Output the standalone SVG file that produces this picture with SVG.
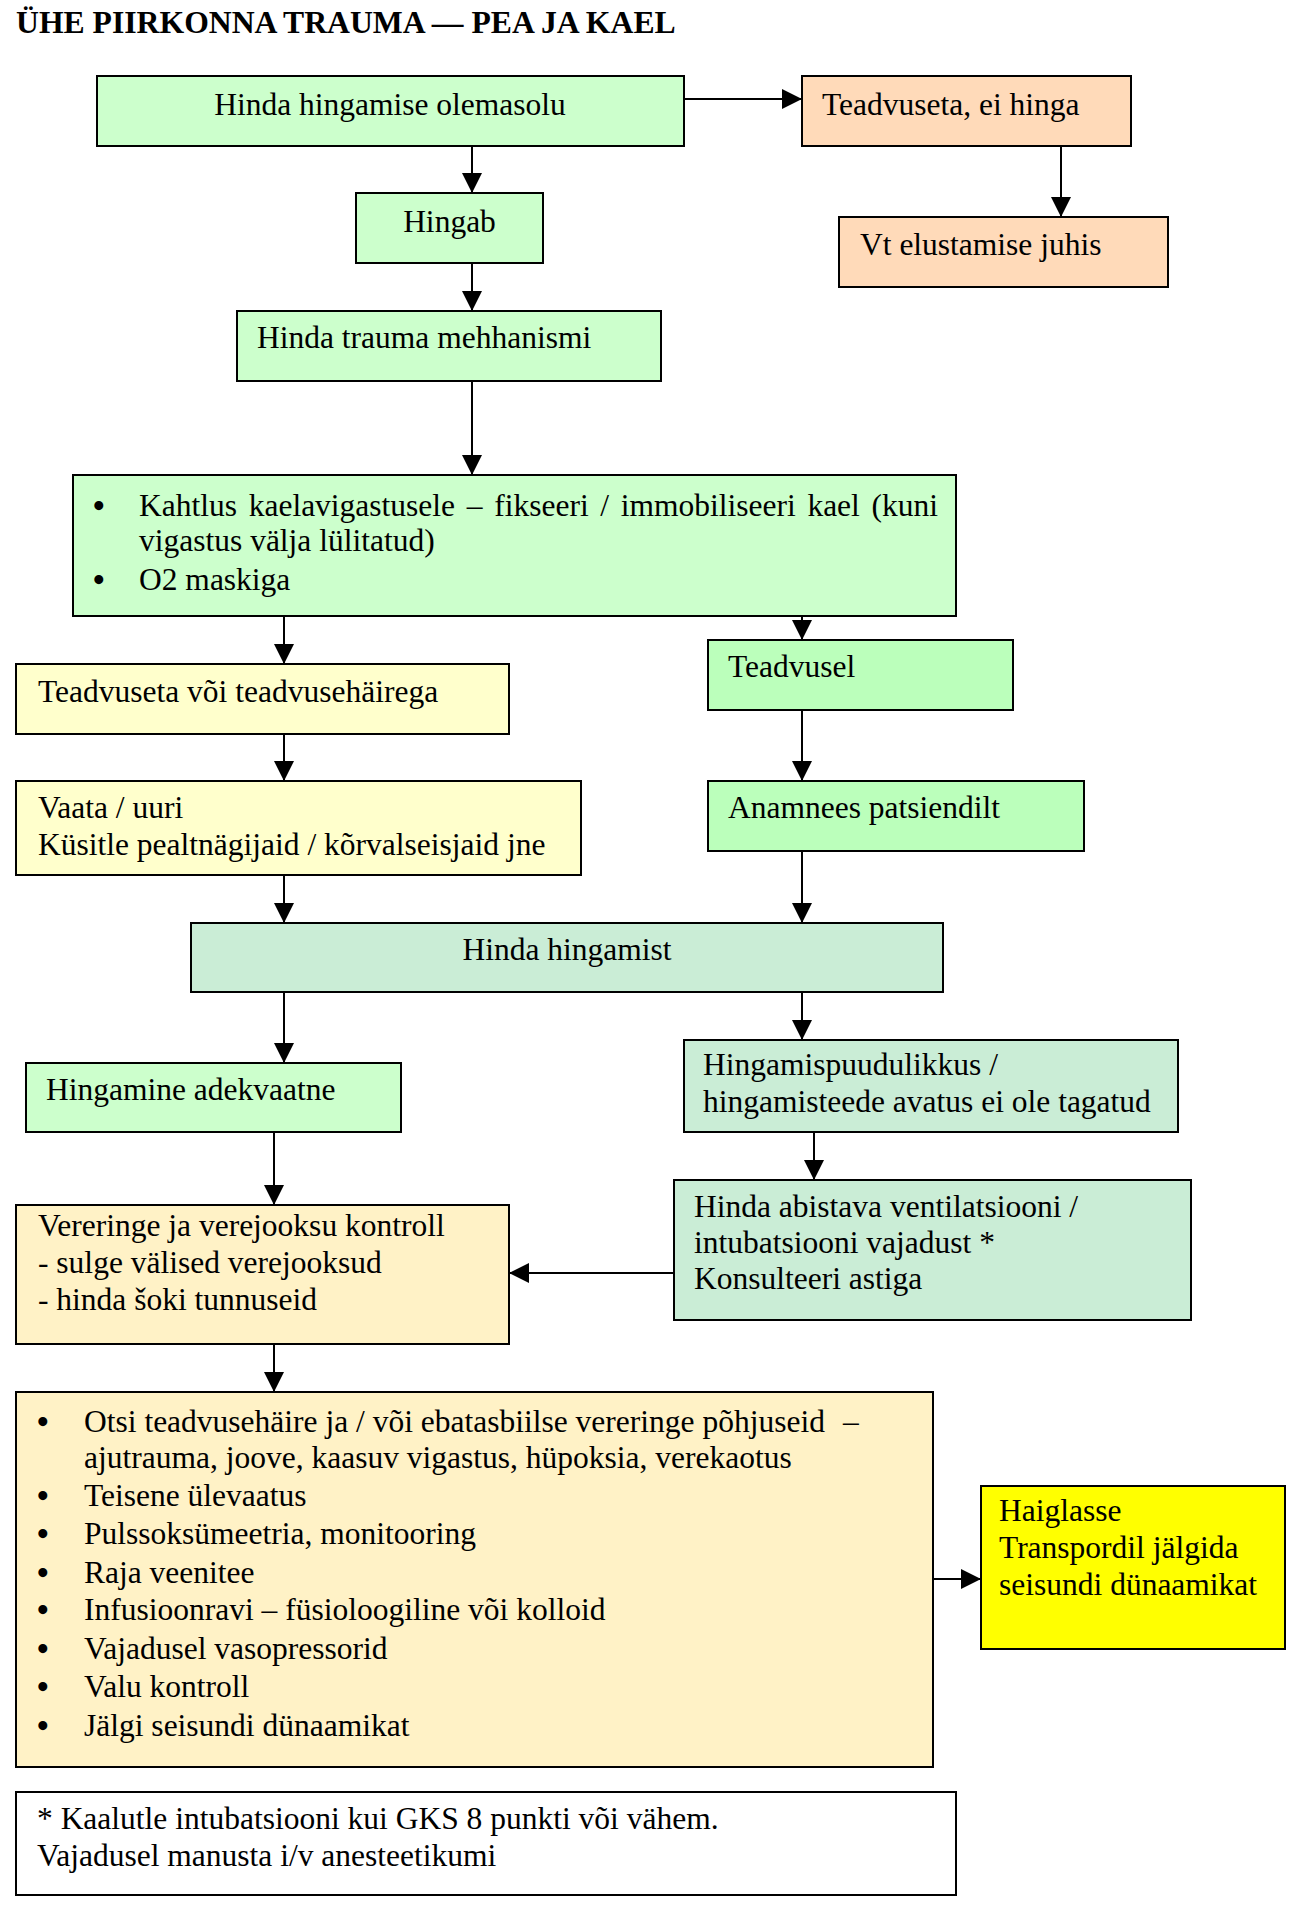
<svg xmlns="http://www.w3.org/2000/svg" width="1292" height="1929" viewBox="0 0 1292 1929">
<style>
.t{font-family:"Liberation Serif","Times New Roman",serif;font-size:31.5px;fill:#000}
.h{font-family:"Liberation Serif","Times New Roman",serif;font-size:31.7px;font-weight:bold;fill:#000}
.bu{font-family:"Liberation Serif","Times New Roman",serif;font-size:33px;font-weight:bold;fill:#000}
.m{text-anchor:middle}
.n rect{stroke:#000;stroke-width:2}
.g1{fill:#CCFFCC}.pe{fill:#FFDAB9}.g2{fill:#BBFFBB}.tl{fill:#CAEDD6}.ly{fill:#FFFFCC}.wh{fill:#FFF2C6}.ye{fill:#FFFF00}.wt{fill:#FFFFFF}
#connectors line{stroke:#000;stroke-width:2;marker-end:url(#ah)}
</style>
<defs>
<marker id="ah" markerUnits="userSpaceOnUse" markerWidth="20" markerHeight="20" refX="20" refY="10" orient="auto">
<path d="M0,0 L20,10 L0,20 z" fill="#000"/>
</marker>
</defs>
<rect x="0" y="0" width="1292" height="1929" fill="#fff"/>
<text class="h" x="16" y="33">ÜHE PIIRKONNA TRAUMA — PEA JA KAEL</text>

<g id="connectors">
<line x1="684" y1="99" x2="802" y2="99"/>
<line x1="1061" y1="146" x2="1061" y2="217"/>
<line x1="472" y1="146" x2="472" y2="193"/>
<line x1="472" y1="263" x2="472" y2="311"/>
<line x1="472" y1="381" x2="472" y2="475"/>
<line x1="284" y1="616" x2="284" y2="664"/>
<line x1="802" y1="616" x2="802" y2="640"/>
<line x1="284" y1="734" x2="284" y2="781"/>
<line x1="802" y1="710" x2="802" y2="781"/>
<line x1="284" y1="875" x2="284" y2="923"/>
<line x1="802" y1="851" x2="802" y2="923"/>
<line x1="284" y1="992" x2="284" y2="1063"/>
<line x1="802" y1="992" x2="802" y2="1040"/>
<line x1="814" y1="1132" x2="814" y2="1180"/>
<line x1="274" y1="1132" x2="274" y2="1205"/>
<line x1="674" y1="1273" x2="509" y2="1273"/>
<line x1="274" y1="1344" x2="274" y2="1392"/>
<line x1="933" y1="1579" x2="981" y2="1579"/>
</g>

<g id="n1" class="n"><rect class="g1" x="97" y="76" width="587" height="70"/><text class="t m" x="390" y="115">Hinda hingamise olemasolu</text></g>
<g id="n2" class="n"><rect class="pe" x="802" y="76" width="329" height="70"/><text class="t" x="822" y="115">Teadvuseta, ei hinga</text></g>
<g id="n3" class="n"><rect class="g1" x="356" y="193" width="187" height="70"/><text class="t m" x="449.5" y="232">Hingab</text></g>
<g id="n4" class="n"><rect class="pe" x="839" y="217" width="329" height="70"/><text class="t" x="860" y="255">Vt elustamise juhis</text></g>
<g id="n5" class="n"><rect class="g1" x="237" y="311" width="424" height="70"/><text class="t" x="257" y="348">Hinda trauma mehhanismi</text></g>
<g id="n6" class="n"><rect class="g1" x="73" y="475" width="883" height="141"/>
<text class="bu" x="93" y="517">•</text><text class="t" x="139" y="516" word-spacing="3.8">Kahtlus kaelavigastusele – fikseeri / immobiliseeri kael (kuni</text>
<text class="t" x="139" y="551">vigastus välja lülitatud)</text>
<text class="bu" x="93" y="591">•</text><text class="t" x="139" y="590">O2 maskiga</text></g>
<g id="n7" class="n"><rect class="ly" x="16" y="664" width="493" height="70"/><text class="t" x="38" y="702">Teadvuseta või teadvusehäirega</text></g>
<g id="n8" class="n"><rect class="g2" x="708" y="640" width="305" height="70"/><text class="t" x="728" y="677">Teadvusel</text></g>
<g id="n9" class="n"><rect class="ly" x="16" y="781" width="565" height="94"/><text class="t" x="38" y="818">Vaata / uuri</text><text class="t" x="38" y="855">Küsitle pealtnägijaid / kõrvalseisjaid jne</text></g>
<g id="n10" class="n"><rect class="g2" x="708" y="781" width="376" height="70"/><text class="t" x="728" y="818">Anamnees patsiendilt</text></g>
<g id="n11" class="n"><rect class="tl" x="191" y="923" width="752" height="69"/><text class="t m" x="567" y="960">Hinda hingamist</text></g>
<g id="n12" class="n"><rect class="g1" x="26" y="1063" width="375" height="69"/><text class="t" x="46" y="1100">Hingamine adekvaatne</text></g>
<g id="n13" class="n"><rect class="tl" x="684" y="1040" width="494" height="92"/><text class="t" x="703" y="1075">Hingamispuudulikkus /</text><text class="t" x="703" y="1112">hingamisteede avatus ei ole tagatud</text></g>
<g id="n14" class="n"><rect class="tl" x="674" y="1180" width="517" height="140"/><text class="t" x="694" y="1217">Hinda abistava ventilatsiooni /</text><text class="t" x="694" y="1253">intubatsiooni vajadust *</text><text class="t" x="694" y="1289">Konsulteeri astiga</text></g>
<g id="n15" class="n"><rect class="wh" x="16" y="1205" width="493" height="139"/><text class="t" x="38" y="1236">Vereringe ja verejooksu kontroll</text><text class="t" x="38" y="1273">- sulge välised verejooksud</text><text class="t" x="38" y="1310">- hinda šoki tunnuseid</text></g>
<g id="n16" class="n"><rect class="wh" x="16" y="1392" width="917" height="375"/>
<text class="bu" x="37" y="1433">•</text><text class="t" x="84" y="1432">Otsi teadvusehäire ja / või ebatasbiilse vereringe põhjuseid</text><text class="t" x="843" y="1432">–</text>
<text class="t" x="84" y="1468">ajutrauma, joove, kaasuv vigastus, hüpoksia, verekaotus</text>
<text class="bu" x="37" y="1507">•</text><text class="t" x="84" y="1506">Teisene ülevaatus</text>
<text class="bu" x="37" y="1545">•</text><text class="t" x="84" y="1544">Pulssoksümeetria, monitooring</text>
<text class="bu" x="37" y="1584">•</text><text class="t" x="84" y="1583">Raja veenitee</text>
<text class="bu" x="37" y="1621">•</text><text class="t" x="84" y="1620">Infusioonravi – füsioloogiline või kolloid</text>
<text class="bu" x="37" y="1660">•</text><text class="t" x="84" y="1659">Vajadusel vasopressorid</text>
<text class="bu" x="37" y="1698">•</text><text class="t" x="84" y="1697">Valu kontroll</text>
<text class="bu" x="37" y="1737">•</text><text class="t" x="84" y="1736">Jälgi seisundi dünaamikat</text></g>
<g id="n17" class="n"><rect class="ye" x="981" y="1486" width="304" height="163"/><text class="t" x="999" y="1521">Haiglasse</text><text class="t" x="999" y="1558">Transpordil jälgida</text><text class="t" x="999" y="1595">seisundi dünaamikat</text></g>
<g id="n18" class="n"><rect class="wt" x="16" y="1792" width="940" height="103"/><text class="t" x="37" y="1829">* Kaalutle intubatsiooni kui GKS 8 punkti või vähem.</text><text class="t" x="37" y="1866">Vajadusel manusta i/v anesteetikumi</text></g>
</svg>
